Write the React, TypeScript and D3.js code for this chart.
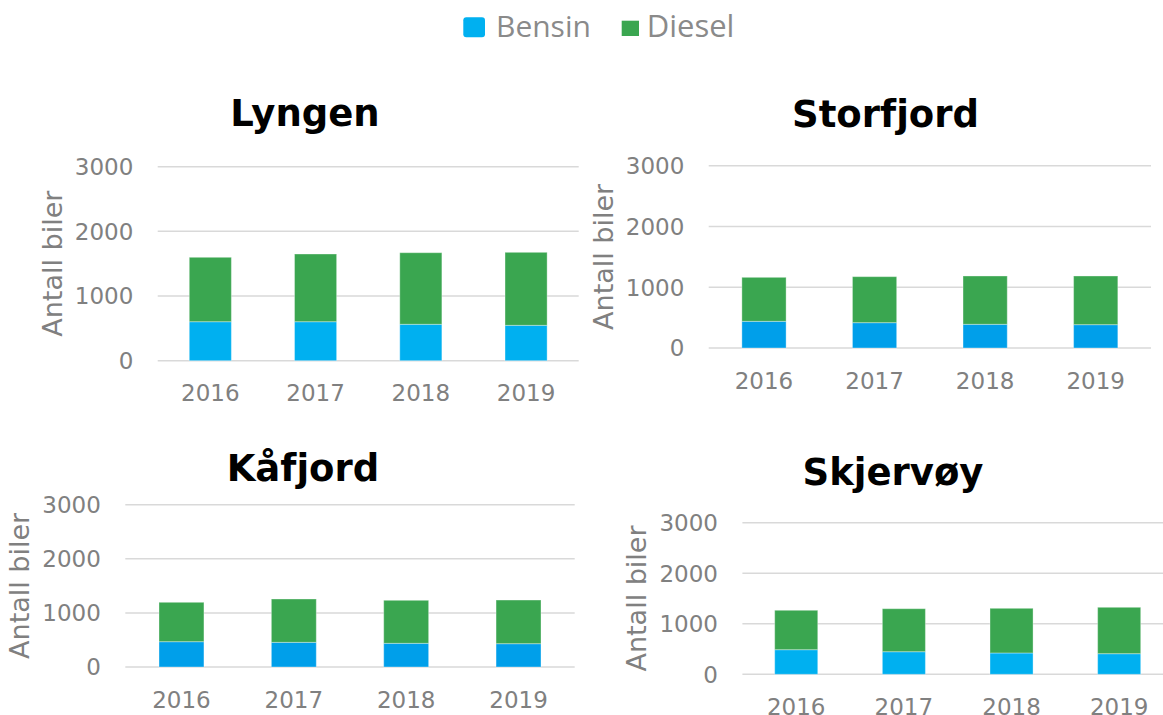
import React from "react";
import * as d3 from "d3";

// ---- Data ----
const years = ["2016", "2017", "2018", "2019"];
const yTicks = [0, 1000, 2000, 3000];
const seriesNames = ["Bensin", "Diesel"];

const lyngenBensin = [603, 603, 563, 547];
const lyngenDiesel = [996, 1047, 1107, 1129];

const storfjordBensin = [439, 417, 390, 384];
const storfjordDiesel = [724, 757, 795, 801];

const kafjordBensin = [468, 456, 438, 431];
const kafjordDiesel = [728, 801, 795, 807];

const skjervoyBensin = [487, 447, 422, 408];
const skjervoyDiesel = [780, 851, 884, 918];

const panelNames = ["Lyngen", "Storfjord", "Kåfjord", "Skjervøy"];
const panelBensin = [lyngenBensin, storfjordBensin, kafjordBensin, skjervoyBensin];
const panelDiesel = [lyngenDiesel, storfjordDiesel, kafjordDiesel, skjervoyDiesel];

// ---- Layout / style ----
const W = 1163;
const H = 715;
const layouts = [
  { x0: 157.7, x1: 578.7, yTop: 166.7, yBot: 360.7, tx: 305, ty: 126, bensin: "#00b0f0" },
  { x0: 708.7, x1: 1151, yTop: 165.7, yBot: 348, tx: 885.5, ty: 126.7, bensin: "#009fea" },
  { x0: 125.3, x1: 574.7, yTop: 504.7, yBot: 667, tx: 303, ty: 481, bensin: "#009fea" },
  { x0: 742.4, x1: 1173, yTop: 522.7, yBot: 674.3, tx: 893, ty: 485, bensin: "#00b0f0" },
];
const DIESEL = "#3aa650";
const GRID = "#d9d9d9";
const TEXT = "#808080";
const FONT = "'DejaVu Sans', Verdana, sans-serif";

function Panel({ idx }: { idx: number }) {
  const L = layouts[idx];
  const bensin = panelBensin[idx];
  const diesel = panelDiesel[idx];
  const x = d3.scaleBand<string>().domain(years).range([L.x0, L.x1]).paddingInner(0.6).paddingOuter(0.3);
  const y = d3.scaleLinear().domain([0, 3000]).range([L.yBot, L.yTop]);
  const rows = years.map((yr, i) => ({ year: yr, Bensin: bensin[i], Diesel: diesel[i] }));
  const stacked = d3.stack<any>().keys(seriesNames)(rows);
  const colors: Record<string, string> = { Bensin: L.bensin, Diesel: DIESEL };
  const yMid = (L.yTop + L.yBot) / 2;
  return (
    <g>
      <text x={L.tx} y={L.ty} textAnchor="middle" fontFamily={FONT} fontWeight="bold" fontSize={37} fill="#000">
        {panelNames[idx]}
      </text>
      {yTicks.map((t) => (
        <g key={t}>
          <line x1={L.x0} x2={L.x1} y1={y(t)} y2={y(t)} stroke={GRID} strokeWidth={1.5} />
          <text x={L.x0 - 24.4} y={y(t)} dy="0.36em" textAnchor="end" fontFamily={FONT} fontSize={23} fill={TEXT}>
            {t}
          </text>
        </g>
      ))}
      <text
        transform={`translate(${L.x0 - 96},${yMid}) rotate(-90)`}
        textAnchor="middle"
        fontFamily={FONT}
        fontSize={27}
        fill={TEXT}
      >
        Antall biler
      </text>
      {stacked.map((s) => (
        <g key={s.key}>
          {s.map((d: any, i: number) => (
            <rect
              key={i}
              x={x(years[i])}
              width={x.bandwidth()}
              y={y(d[1])}
              height={y(d[0]) - y(d[1])}
              fill={colors[s.key]}
              stroke="#ffffff"
              strokeOpacity={0.35}
              strokeWidth={1}
            />
          ))}
        </g>
      ))}
      {years.map((yr) => (
        <text
          key={yr}
          x={(x(yr) as number) + x.bandwidth() / 2}
          y={L.yBot + 40.5}
          textAnchor="middle"
          fontFamily={FONT}
          fontSize={23}
          fill={TEXT}
        >
          {yr}
        </text>
      ))}
    </g>
  );
}

export default function App() {
  return (
    <svg width={W} height={H} style={{ position: "absolute", left: 0, top: 0, display: "block", background: "#fff" }}>
      <rect x={0} y={0} width={W} height={H} fill="#fff" />
      {/* Legend */}
      <rect x={463.3} y={17.3} width={21.7} height={20} rx={3} fill="#00b0f0" />
      <text x={496} y={36.7} fontFamily="'Open Sans', sans-serif" fontSize={30} fill="#8a8a8a">
        {seriesNames[0]}
      </text>
      <rect x={621.7} y={20.7} width={17.3} height={15.3} fill={DIESEL} />
      <text x={646.7} y={36.7} fontFamily="'Open Sans', sans-serif" fontSize={31} fill="#8a8a8a">
        {seriesNames[1]}
      </text>
      {panelNames.map((_, i) => (
        <Panel key={i} idx={i} />
      ))}
    </svg>
  );
}
